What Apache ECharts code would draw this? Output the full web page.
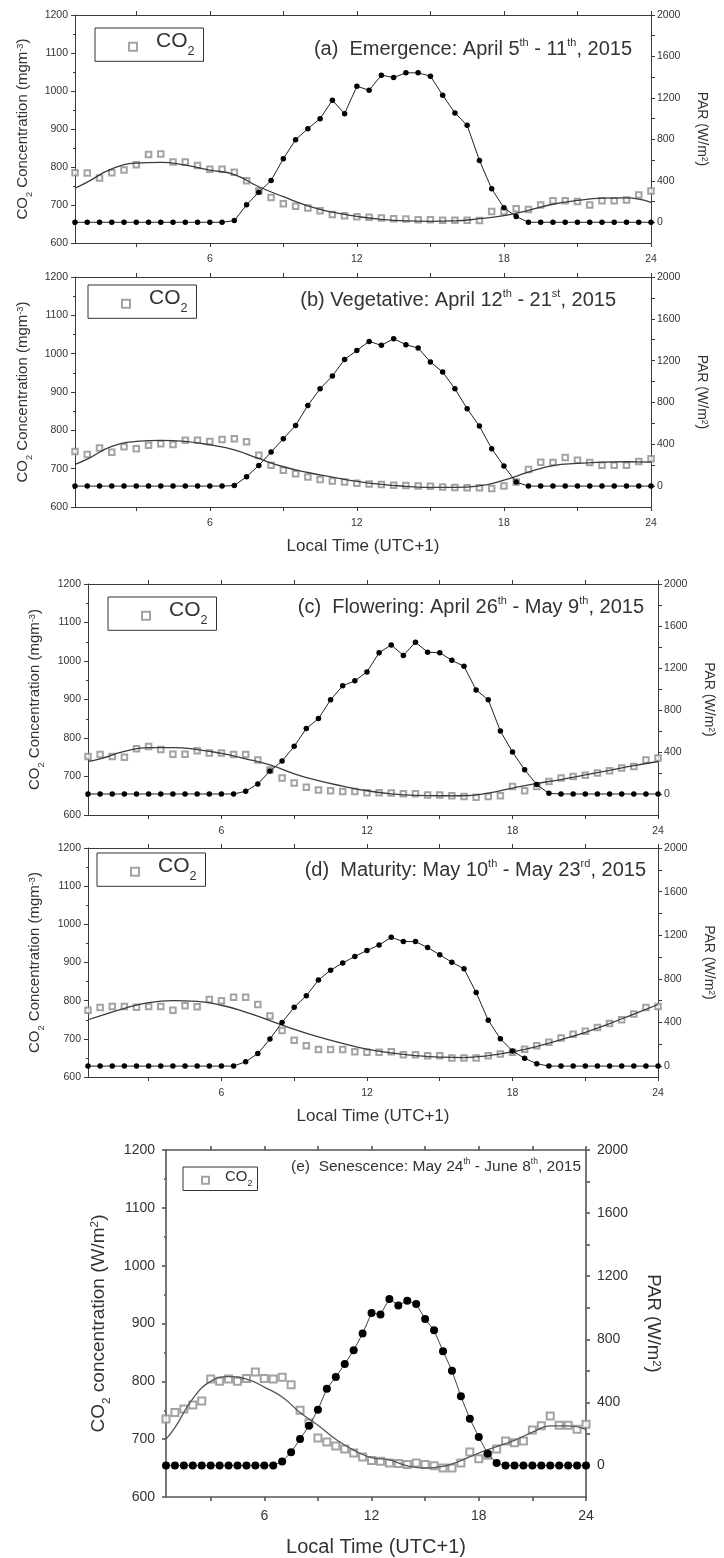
<!DOCTYPE html>
<html><head><meta charset="utf-8">
<script src="https://cdn.jsdelivr.net/npm/echarts@6/dist/echarts.min.js"></script>
<style>html,body{margin:0;padding:0;background:#fff}#c{width:724px;height:1558px}</style>
</head><body><div id="c"></div>
<script>
// ---- data ----
const hours = [0.5,1,1.5,2,2.5,3,3.5,4,4.5,5,5.5,6,6.5,7,7.5,8,8.5,9,9.5,10,10.5,11,11.5,12,12.5,13,13.5,14,14.5,15,15.5,16,16.5,17,17.5,18,18.5,19,19.5,20,20.5,21,21.5,22,22.5,23,23.5,24];
const fitHours = [0.5,1,2,3,4,5,6,7,8,9,10,11,12,13,14,15,16,17,18,19,20,21,22,23,24];
const xLabelValues = [6,12,18,24];
const xTickValues = [3,6,9,12,15,18,21,24];
const parLabelValues = [0,400,800,1200,1600,2000];
const parTickValues = [0,200,400,600,800,1000,1200,1400,1600,1800,2000];

const co2A = [785,784,771,785,792,806,833,834,813,813,804,794,794,786,764,737,720,703,697,692,685,675,672,669,668,666,664,663,661,661,660,660,660,659,683,683,690,688,700,711,711,709,700,711,711,713,726,737];
const fitA = [744,760,795,810,812,805,792,780,748,722,698,681,670,662,658,657,658,664,672,686,702,712,718,719,707];
const parA = [0,0,0,0,0,0,0,0,0,0,0,0,0,16,168,290,403,613,797,903,1000,1177,1048,1313,1274,1419,1397,1442,1442,1410,1226,1055,935,597,323,139,55,0,0,0,0,0,0,0,0,0,0,0];

const co2B = [745,737,754,743,757,752,761,765,763,774,774,771,776,778,770,735,709,696,687,678,672,668,665,662,660,659,657,656,655,654,652,651,650,650,648,655,665,698,717,716,729,722,716,709,709,709,719,726];
const fitB = [711,725,758,771,774,771,762,749,726,705,690,678,667,659,654,651,651,655,670,691,708,714,717,718,717];
const parB = [0,0,0,0,0,0,0,0,0,0,0,0,0,5,90,198,325,453,580,772,931,1053,1212,1298,1384,1346,1410,1352,1321,1187,1091,931,740,574,357,191,38,0,0,0,0,0,0,0,0,0,0,0];

const co2C = [752,757,752,750,772,778,770,758,758,767,761,761,757,757,743,717,696,683,672,665,663,661,661,658,658,657,655,655,652,652,650,648,646,648,650,674,663,674,687,696,700,703,709,715,722,726,743,748];
const fitC = [739,746,765,775,775,770,760,746,730,707,689,675,663,655,651,650,650,657,670,682,692,704,716,728,739];
const parC = [0,0,0,0,0,0,0,0,0,0,0,0,0,26,96,218,314,454,624,718,897,1031,1078,1163,1345,1420,1320,1445,1351,1345,1273,1216,991,897,599,400,230,90,6,0,0,0,0,0,0,0,0,0];

const co2D = [775,782,785,785,783,785,785,775,787,784,803,800,809,809,790,760,722,696,682,672,672,672,666,665,665,666,658,658,656,656,650,650,650,656,660,665,673,682,691,702,712,720,730,740,750,765,782,785];
const fitD = [750,760,780,795,800,798,788,770,748,725,705,688,673,663,656,652,651,656,666,680,698,717,740,765,790];
const parD = [0,0,0,0,0,0,0,0,0,0,0,0,0,40,115,248,400,540,645,789,880,946,1006,1060,1111,1181,1142,1142,1087,1021,952,892,675,420,250,139,71,22,0,0,0,0,0,0,0,0,0,0];

const co2E = [735,746,752,759,766,804,800,804,800,805,816,805,804,807,794,750,728,702,695,688,683,676,669,663,662,659,658,656,659,656,654,650,650,659,678,666,672,683,697,694,697,716,723,740,724,724,717,726];
const fitE = [700,720,770,800,808,804,790,773,746,724,700,681,668,664,654,650,653,663,676,687,698,712,723,723,717];
const parE = [0,0,0,0,0,0,0,0,0,0,0,0,0,25,83,167,252,353,487,561,643,730,836,967,957,1056,1014,1045,1024,929,857,724,601,438,296,180,74,15,0,0,0,0,0,0,0,0,0,0];

const titleA = ['(a)  Emergence: April 5','th',' - 11','th',', 2015'];
const titleB = ['(b) Vegetative: April 12','th',' - 21','st',', 2015'];
const titleC = ['(c)  Flowering: April 26','th',' - May 9','th',', 2015'];
const titleD = ['(d)  Maturity: May 10','th',' - May 23','rd',', 2015'];
const titleE = ['(e)  Senescence: May 24','th',' - June 8','th',', 2015'];

// ---- build ----
const FONT = 'Liberation Sans, Arial, Helvetica, sans-serif';
const TXT = '#333';

function pair(xs, ys){ return ys.map((v,i)=>[xs[i], v]); }
function supTitle(parts){
  return parts.map((p,i)=> (i%2===1 ? '{u|'+p+'}' : '{m|'+p+'}')).join('');
}
const plain = v => String(v);

const panels = [
  {grid:{left:75,top:15,width:576,height:228}, co2:co2A, fit:fitA, par:parA, parMin:-200, title:titleA, tRight:92, tTop:37, lLeft:95, lTop:28, xName:'', big:false, lGap:37},
  {grid:{left:75,top:277,width:576,height:230}, co2:co2B, fit:fitB, par:parB, parMin:-200, title:titleB, tRight:108, tTop:288, lLeft:88, lTop:285, xName:'Local Time (UTC+1)', big:false, lGap:37},
  {grid:{left:88,top:584,width:574,height:231}, co2:co2C, fit:fitC, par:parC, parMin:-200, title:titleC, tRight:80, tTop:595, lLeft:108, lTop:597, xName:'', big:false, lGap:42},
  {grid:{left:88,top:848,width:574,height:229}, co2:co2D, fit:fitD, par:parD, parMin:-100, title:titleD, tRight:78, tTop:858, lLeft:97, lTop:853, xName:'Local Time (UTC+1)', big:false, lGap:42},
  {grid:{left:166,top:1150,width:420,height:347}, co2:co2E, fit:fitE, par:parE, parMin:-200, title:titleE, tRight:143, tTop:1158, lLeft:183, lTop:1167, xName:'Local Time (UTC+1)', big:true, lGap:53}
];

const option = {animation:false, backgroundColor:'#fff', grid:[], xAxis:[], yAxis:[], series:[], title:[], legend:[]};

panels.forEach((p,k)=>{
  const B = p.big;
  const axCol = B ? '#555' : '#3a3a3a';
  const axW = B ? 1.6 : 1;
  const tickFs = B ? 14 : 10.5;
  const nameFs = B ? 19 : 15;
  const rNameFs = B ? 18.5 : 14;
  option.grid.push(Object.assign({containLabel:false}, p.grid));

  const xBase = {gridIndex:k, type:'value', min:0.5, max:24,
    axisLine:{show:true, onZero:false, lineStyle:{color:axCol, width:axW}},
    axisTick:{show:true, customValues:xTickValues, length:4, lineStyle:{color:axCol, width:axW}},
    splitLine:{show:false}};
  option.xAxis.push(Object.assign({}, xBase, {position:'bottom',
    axisLabel:{customValues:xLabelValues, formatter:plain, fontSize:tickFs, color:TXT, fontFamily:FONT, margin:B?12:11},
    name:p.xName, nameLocation:'middle', nameGap:B?40:31,
    nameTextStyle:{fontSize:B?20:17, color:TXT, fontFamily:FONT}}));
  option.xAxis.push(Object.assign({}, xBase, {position:'top', axisLabel:{show:false}}));

  const sub = {fontSize:nameFs*0.62, lineHeight:nameFs*0.7, verticalAlign:'bottom', fontFamily:FONT, color:TXT};
  const sup = {fontSize:nameFs*0.62, lineHeight:nameFs*0.7, padding:[0,0,nameFs*0.62,0], verticalAlign:'bottom', fontFamily:FONT, color:TXT};
  const main = {fontSize:nameFs, lineHeight:nameFs*1.15, padding:[0,0,nameFs*0.25,0], verticalAlign:'bottom', fontFamily:FONT, color:TXT};
  const leftName = B ? '{m|CO}{s|2}{m| concentration (W/m}{p|2}{m|)}' : '{m|CO}{s|2}{m| Concentration (mgm}{p|-3}{m|)}';
  option.yAxis.push({gridIndex:k, type:'value', min:600, max:1200, interval:100, position:'left',
    axisLine:{show:true, onZero:false, lineStyle:{color:axCol, width:axW}},
    axisTick:{show:true, length:4, lineStyle:{color:axCol, width:axW}},
    minorTick:{show:true, splitNumber:2, length:2, lineStyle:{color:axCol, width:axW}},
    axisLabel:{formatter:plain, fontSize:tickFs, color:TXT, fontFamily:FONT, margin:B?11:7},
    splitLine:{show:false},
    name:leftName, nameLocation:'middle', nameRotate:90, nameGap:p.lGap,
    nameTextStyle:{rich:{m:main, s:sub, p:sup}}});

  const rmain = Object.assign({}, main, {fontSize:rNameFs, lineHeight:rNameFs*1.15, padding:[0,0,rNameFs*0.25,0]});
  const rsup = Object.assign({}, sup, {fontSize:rNameFs*0.62, lineHeight:rNameFs*0.7, padding:[0,0,rNameFs*0.62,0]});
  option.yAxis.push({gridIndex:k, type:'value', min:p.parMin, max:2000, position:'right',
    axisLine:{show:true, onZero:false, lineStyle:{color:axCol, width:axW}},
    axisTick:{show:true, customValues:parTickValues, length:4, lineStyle:{color:axCol, width:axW}},
    axisLabel:{customValues:parLabelValues, formatter:plain, fontSize:tickFs, color:TXT, fontFamily:FONT, margin:B?11:6},
    splitLine:{show:false},
    name:'{m|PAR (W/m}{p|2}{m|)}', nameLocation:'middle', nameRotate:-90, nameGap:B?44:34,
    nameTextStyle:{rich:{m:rmain, p:rsup}}});

  option.series.push({type:'scatter', name:'CO₂', xAxisIndex:2*k, yAxisIndex:2*k,
    symbol:'emptyRect', symbolSize:B?7:5.5, itemStyle:{color:'#8c8c8c', borderWidth:1},
    data:pair(hours, p.co2), z:2});
  option.series.push({type:'line', name:'fit'+k, xAxisIndex:2*k, yAxisIndex:2*k, smooth:true,
    symbol:'none', lineStyle:{color:B?'#555':'#3a3a3a', width:1.3}, data:pair(fitHours, p.fit), z:3, silent:true});
  option.series.push({type:'line', name:'PAR'+k, xAxisIndex:2*k, yAxisIndex:2*k+1,
    symbol:'circle', symbolSize:B?8:5.5, showSymbol:true, itemStyle:{color:'#000'},
    lineStyle:{color:B?'#444':'#222', width:1}, data:pair(hours, p.par), z:4});

  const tFs = B ? 15.5 : 20;
  option.title.push({text:supTitle(p.title), right:p.tRight, top:p.tTop, padding:0,
    textStyle:{fontFamily:FONT, fontWeight:'normal', color:TXT, fontSize:tFs,
      rich:{m:{fontSize:tFs, lineHeight:tFs*1.1, verticalAlign:'bottom', color:TXT, fontFamily:FONT},
            u:{fontSize:tFs*0.55, lineHeight:tFs*0.6, padding:[0,0,tFs*0.55,0], verticalAlign:'bottom', color:TXT, fontFamily:FONT}}}});

  const lFs = B ? 15 : 21;
  option.legend.push({data:['CO₂'], left:p.lLeft, top:p.lTop, orient:'horizontal', selectedMode:false,
    borderColor:'#333', borderWidth:1, borderRadius:0,
    padding:B?[2,5,2,18]:[3,9,3,33], itemWidth:B?7:8, itemHeight:B?7:8, itemGap:0,
    formatter:function(){ return '{g| }{m|CO}{s|2}'; },
    textStyle:{color:TXT, fontFamily:FONT,
      rich:{g:{width:B?11:14},
            m:{fontSize:lFs, lineHeight:lFs*1.1, padding:[0,0,lFs*0.3,0], verticalAlign:'bottom', color:TXT, fontFamily:FONT},
            s:{fontSize:lFs*0.6, lineHeight:lFs*0.7, verticalAlign:'bottom', color:TXT, fontFamily:FONT}}}});
});

const chart = echarts.init(document.getElementById('c'), null, {renderer:'canvas', width:724, height:1558});
chart.setOption(option);
</script>
</body></html>
